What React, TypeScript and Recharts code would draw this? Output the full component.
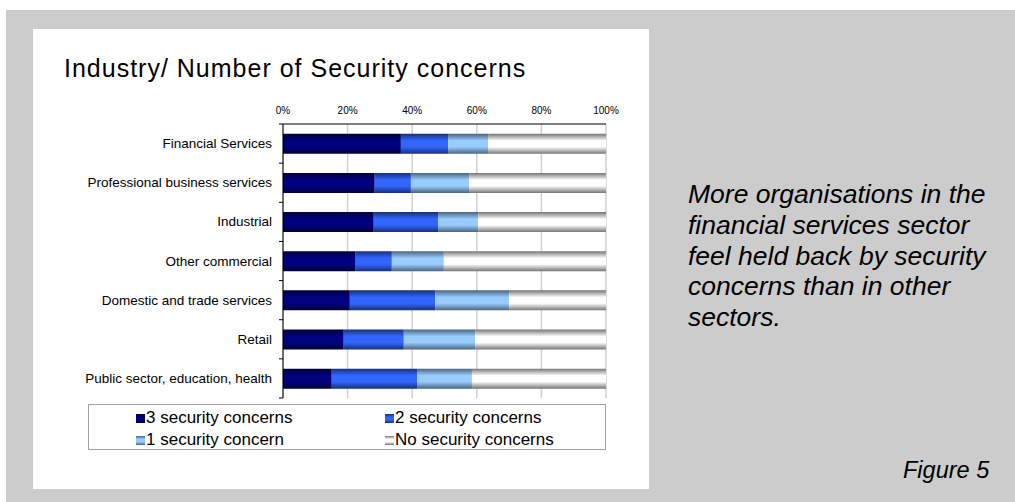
import React from 'react';
import { BarChart, Bar, XAxis, YAxis, CartesianGrid, Legend } from 'recharts';

const categories = [
  'Financial Services',
  'Professional business services',
  'Industrial',
  'Other commercial',
  'Domestic and trade services',
  'Retail',
  'Public sector, education, health',
];
const threeConcerns = [36.5, 28.4, 28.1, 22.5, 20.7, 18.8, 15.1];
const twoConcerns = [14.6, 11.2, 19.9, 11.2, 26.4, 18.6, 26.4];
const oneConcern = [12.4, 18.0, 12.4, 16.1, 22.9, 22.1, 17.0];
const noConcerns = [36.5, 42.4, 39.6, 50.2, 30.0, 40.5, 41.5];
const xTicks = [0, 20, 40, 60, 80, 100];

const seriesNames = ['3 security concerns', '2 security concerns', '1 security concern', 'No security concerns'];
const seriesKeys = ['three', 'two', 'one', 'none'];
const gradients = [
  { id: 'g3', edge: '#000038', mid: '#000080' },
  { id: 'g2', edge: '#16307a', mid: '#3366ff' },
  { id: 'g1', edge: '#4a6480', mid: '#99ccff' },
  { id: 'g0', edge: '#767676', mid: '#ffffff' },
];

const data = categories.map((name, i) => ({
  name,
  three: threeConcerns[i],
  two: twoConcerns[i],
  one: oneConcern[i],
  none: noConcerns[i],
}));

const FONT = '"Liberation Sans", Arial, Helvetica, sans-serif';
const Y_TICK_SIZE = 5;
const Y_TICK_MARGIN = 6;

const CategoryTick = (props: any) => {
  const { x, y, payload, index, visibleTicksCount } = props;
  const axisX = x + Y_TICK_SIZE + Y_TICK_MARGIN;
  const half = payload && payload.offset ? payload.offset : 19.57;
  const last = index === (visibleTicksCount ?? categories.length) - 1;
  return (
    <g>
      <text x={x} y={y} textAnchor="end" dominantBaseline="central" fontSize={13.5} fill="#000" fontFamily={FONT}>
        {payload.value}
      </text>
      <line x1={axisX - 4} x2={axisX} y1={y - half} y2={y - half} stroke="#000" />
      {last && <line x1={axisX - 4} x2={axisX} y1={y + half} y2={y + half} stroke="#000" />}
    </g>
  );
};

const gradCss = (g: { edge: string; mid: string }) =>
  `linear-gradient(to bottom, ${g.edge} 0%, ${g.mid} 35%, ${g.mid} 65%, ${g.edge} 100%)`;

const LegendBox = () => (
  <div
    style={{
      width: 518,
      height: 46,
      boxSizing: 'border-box',
      border: '1px solid #a0a0a0',
      position: 'relative',
      fontFamily: FONT,
      fontSize: 17,
      background: '#fff',
    }}
  >
    {seriesNames.map((n, i) => {
      const col = i % 2;
      const row = Math.floor(i / 2);
      return (
        <div
          key={n}
          style={{
            position: 'absolute',
            left: col === 0 ? 47 : 296,
            top: row === 0 ? 3 : 25,
            height: 20,
            display: 'flex',
            alignItems: 'center',
            whiteSpace: 'nowrap',
          }}
        >
          <span style={{ display: 'inline-block', width: 9, height: 9, background: gradCss(gradients[i]), marginRight: 1 }} />
          <span>{n}</span>
        </div>
      );
    })}
  </div>
);

export default function App() {
  return (
    <div style={{ position: 'absolute', left: 0, top: 0, width: 1015, height: 502, background: '#fff', overflow: 'hidden' }}>
      <div style={{ position: 'absolute', left: 6, top: 10, width: 1009, height: 492, background: '#cccccc' }} />
      <div style={{ position: 'absolute', left: 33, top: 29, width: 616, height: 460, background: '#fff' }} />
      <div
        style={{
          position: 'absolute',
          left: 64,
          top: 53,
          fontFamily: FONT,
          fontSize: 25,
          letterSpacing: 1,
          lineHeight: '30px',
          color: '#000',
          whiteSpace: 'nowrap',
        }}
      >
        Industry/ Number of Security concerns
      </div>
      <div style={{ position: 'absolute', left: 33, top: 29 }}>
        <BarChart
          width={616}
          height={460}
          data={data}
          layout="vertical"
          margin={{ top: 65, right: 43, bottom: 91, left: 0 }}
          barCategoryGap="25%"
        >
          <defs>
            {gradients.map((g) => (
              <linearGradient key={g.id} id={g.id} x1="0" y1="0" x2="0" y2="1">
                <stop offset="0%" stopColor={g.edge} />
                <stop offset="35%" stopColor={g.mid} />
                <stop offset="65%" stopColor={g.mid} />
                <stop offset="100%" stopColor={g.edge} />
              </linearGradient>
            ))}
          </defs>
          <CartesianGrid horizontal={false} stroke="#d0d0d0" strokeWidth={1.5} xAxisId="top" />
          <XAxis
            xAxisId="top"
            orientation="top"
            type="number"
            domain={[0, 100]}
            ticks={xTicks}
            tickFormatter={(v: number) => `${v}%`}
            height={30}
            tickLine={false}
            tickSize={4}
            tickMargin={6}
            axisLine={{ stroke: '#000' }}
            tick={{ fontSize: 10, fill: '#000', fontFamily: FONT }}
          />
          <XAxis
            xAxisId="bottom"
            orientation="bottom"
            type="number"
            domain={[0, 100]}
            height={0}
            tick={false}
            tickLine={false}
            axisLine={{ stroke: '#000' }}
          />
          <YAxis
            yAxisId="left"
            type="category"
            dataKey="name"
            width={250}
            tickLine={false}
            tickSize={Y_TICK_SIZE}
            tickMargin={Y_TICK_MARGIN}
            axisLine={{ stroke: '#000' }}
            tick={<CategoryTick />}
            interval={0}
          />
          <YAxis
            yAxisId="right"
            orientation="right"
            type="category"
            dataKey="name"
            width={0}
            tick={false}
            tickLine={false}
            axisLine={{ stroke: '#a0a0a0', strokeWidth: 1.5 }}
          />
          {seriesKeys.map((k, i) => (
            <Bar
              key={k}
              dataKey={k}
              name={seriesNames[i]}
              stackId="s"
              xAxisId="top"
              yAxisId="left"
              fill={`url(#${gradients[i].id})`}
              isAnimationActive={false}
            />
          ))}
          <Legend
            layout="horizontal"
            verticalAlign="middle"
            align="center"
            wrapperStyle={{ position: 'absolute', left: 55, top: 375, width: 518, height: 46 }}
            content={() => <LegendBox />}
          />
        </BarChart>
      </div>
      <div
        style={{
          position: 'absolute',
          left: 688,
          top: 179,
          fontFamily: FONT,
          fontStyle: 'italic',
          fontSize: 26.5,
          lineHeight: '30.8px',
          color: '#000',
          width: 325,
          whiteSpace: 'nowrap',
        }}
      >
        More organisations in the
        <br />
        financial services sector
        <br />
        feel held back by security
        <br />
        concerns than in other
        <br />
        sectors.
      </div>
      <div
        style={{
          position: 'absolute',
          left: 903,
          top: 456,
          fontFamily: FONT,
          fontStyle: 'italic',
          fontSize: 23.5,
          lineHeight: '28px',
          color: '#000',
          whiteSpace: 'nowrap',
        }}
      >
        Figure 5
      </div>
    </div>
  );
}
